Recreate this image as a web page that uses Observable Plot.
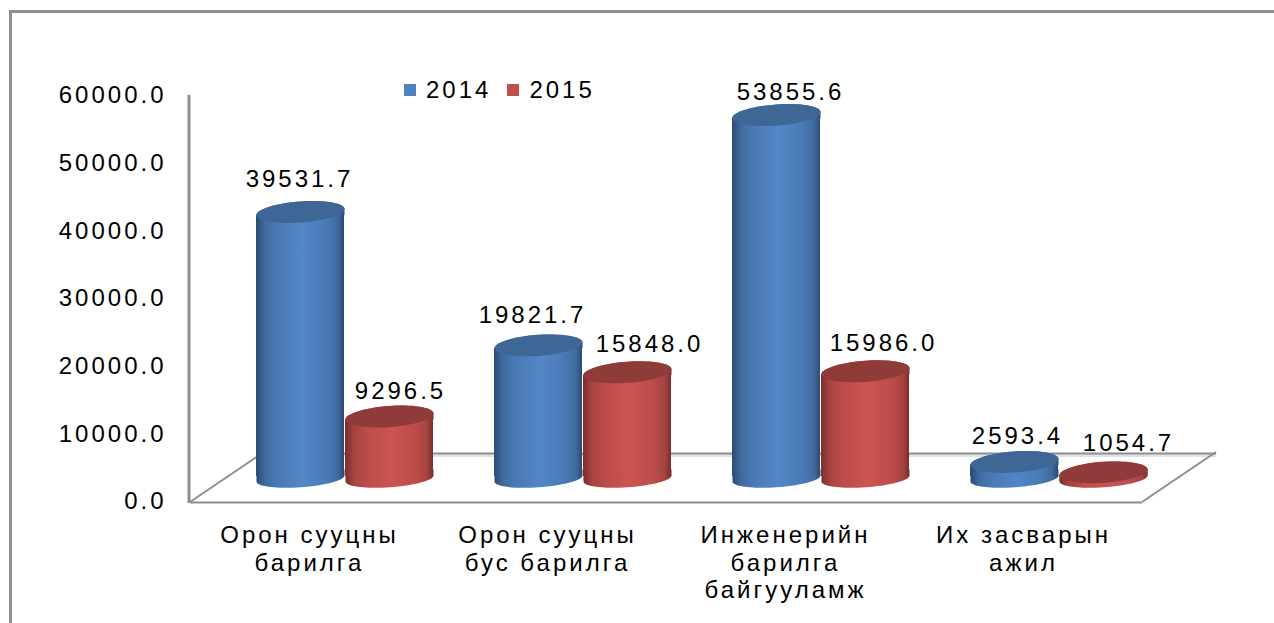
<!DOCTYPE html>
<html lang="mn">
<head>
<meta charset="utf-8">
<script src="https://cdn.jsdelivr.net/npm/d3@7"></script>
<script src="https://cdn.jsdelivr.net/npm/@observablehq/plot@0.6"></script>
<style>
  html,body{margin:0;padding:0;background:#fff;overflow:hidden}
  #wrap{position:relative;width:1274px;height:623px;font-family:"Liberation Sans",Arial,sans-serif}
  #border{position:absolute;left:9px;top:10px;right:0;bottom:0;border-left:3px solid #8e8e8e;border-top:3px solid #8e8e8e}
  #chart{position:absolute;left:0;top:0;width:1274px;height:623px}
  #legend{position:absolute;left:404px;top:76px;display:flex;align-items:center;gap:0;font-size:24px;letter-spacing:3px;color:#000;line-height:28px}
  #legend i{display:inline-block;width:12px;height:12px;margin-right:10px}
  #legend span{display:flex;align-items:center;margin-right:16px}
</style>
</head>
<body>
<div id="wrap">
  <div id="border"></div>
  <div id="chart"></div>
  <div id="legend"></div>
</div>
<script>
// Data
const categories = ["Орон сууцны\nбарилга", "Орон сууцны\nбус барилга", "Инженерийн\nбарилга\nбайгууламж", "Их засварын\nажил"];
const series = ["2014", "2015"];
const values2014 = [39531.7, 19821.7, 53855.6, 2593.4];
const values2015 = [9296.5, 15848.0, 15986.0, 1054.7];
const yTicks = [0, 10000, 20000, 30000, 40000, 50000, 60000];

// Look of the pseudo-3D drawing
const depth = {x: 74, y: 49, barY: 22};
const seriesDx = {"2014": -9, "2015": 80};
const rx = 44;
const shear = 3, strip = 6;
const labelNudge = {
  "2014": [[-1, -33], [-6, -30], [14, -23], [3, -26]],
  "2015": [[11, -25], [22, -28], [18, -28], [25, -29]]
};
const colors = {
  "2014": {edge: "#2b4b72", mid: "#5286c6", top: "#3e6796", swatch: "#4f81bd"},
  "2015": {edge: "#7a2e2c", mid: "#cc5452", top: "#8f3b39", swatch: "#c0504d"}
};

// Sheared ellipse outlines: upper and lower half, with straight sides joining the cylinder body
const K = 0.5523;
const ellipseRadius = size => Math.sqrt(size / Math.PI);
const upperHalf = (c, a, b) => {
  c.bezierCurveTo(-a, shear - K * b, -K * a, K * shear - b, 0, -b);
  c.bezierCurveTo(K * a, -K * shear - b, a, -shear - K * b, a, -shear);
};
const lowerHalf = (c, a, b) => {
  c.bezierCurveTo(a, -shear + K * b, K * a, -K * shear + b, 0, b);
  c.bezierCurveTo(-K * a, K * shear + b, -a, shear + K * b, -a, shear);
};
const lidSymbol = {
  draw(c, size) {
    const a = ellipseRadius(size), b = a * 0.24;
    c.moveTo(-a, shear);
    upperHalf(c, a, b);
    lowerHalf(c, a, b);
    c.closePath();
  }
};
const shoulderSymbol = {
  draw(c, size) {
    const a = ellipseRadius(size), b = a * 0.24;
    c.moveTo(-a, shear);
    upperHalf(c, a, b);
    c.lineTo(a, -shear + strip);
    c.lineTo(-a, shear + strip);
    c.closePath();
  }
};
const baseSymbol = {
  draw(c, size) {
    const a = ellipseRadius(size), b = a * 0.2;
    c.moveTo(-a, shear - strip);
    c.lineTo(-a, shear);
    c.bezierCurveTo(-a, shear + K * b, -K * a, K * shear + b, 0, b);
    c.bezierCurveTo(K * a, -K * shear + b, a, -shear + K * b, a, -shear);
    c.lineTo(a, -shear - strip);
    c.closePath();
  }
};

function gradients() {
  const defs = d3.create("svg:defs");
  for (const s of series) {
    const mix = d3.interpolateRgb(colors[s].edge, colors[s].mid);
    const g = defs.append("linearGradient").attr("id", "side" + s).attr("x1", 0).attr("x2", 1).attr("y1", 0).attr("y2", 0);
    [[0, colors[s].edge], [0.1, mix(0.55)], [0.25, mix(0.8)], [0.52, colors[s].mid], [0.8, mix(0.8)], [0.93, mix(0.55)], [1, colors[s].edge]]
      .forEach(([o, col]) => g.append("stop").attr("offset", o).attr("stop-color", col));
  }
  return defs.node();
}

function floorEdges(index, {y}, values, dims) {
  const g = d3.create("svg:g").attr("stroke", "#8e8e8e").attr("stroke-width", 2);
  const y0 = y(0) + 1, l = dims.marginLeft, r = dims.width - dims.marginRight;
  for (const x0 of [l, r]) {
    g.append("line").attr("x1", x0).attr("y1", y0).attr("x2", x0 + depth.x).attr("y2", y0 - depth.y - 1);
  }
  g.append("line").attr("x1", l - 1).attr("x2", l - 1).attr("y1", y(60000)).attr("y2", y0 + 1).attr("stroke-width", 3);
  return g.node();
}

function cylinder(s, vals) {
  const rows = categories.map((c, i) => ({c, v: vals[i]}));
  const common = {x: "c", dx: seriesDx[s], dy: -depth.barY};
  const dot = {...common, r: rx, stroke: "none"};
  const side = `url(#side${s})`;
  return [
    Plot.dot(rows, {...dot, y: () => 0, dy: -depth.barY - 1, symbol: baseSymbol, fill: side}),
    Plot.barY(rows, {...common, y: "v", insetTop: strip / 2, insetBottom: strip / 2, fill: side}),
    Plot.dot(rows, {...dot, y: "v", symbol: shoulderSymbol, fill: side}),
    Plot.dot(rows, {...dot, y: "v", symbol: lidSymbol, fill: colors[s].top})
  ];
}

function labels(s, vals) {
  return vals.map((v, i) => Plot.text([{c: categories[i], v}], {
    x: "c", y: "v", text: d => d3.format(".1f")(d.v),
    dx: seriesDx[s] + labelNudge[s][i][0],
    dy: -depth.barY + labelNudge[s][i][1],
    fontSize: 24, fill: "#000"
  }));
}

const chart = Plot.plot({
  width: 1274,
  height: 623,
  marginLeft: 190,
  marginRight: 132,
  marginTop: 95,
  marginBottom: 122,
  style: {fontFamily: '"Liberation Sans", Arial, sans-serif', letterSpacing: "3px", background: "transparent", color: "#000", overflow: "visible"},
  x: {domain: categories, paddingInner: 150 / 238, paddingOuter: 75 / 238, axis: null, label: null},
  y: {domain: [0, 60000], axis: null, label: null},
  marks: [
    gradients,
    Plot.ruleY([0], {dx: depth.x, dy: -depth.y + 3, stroke: "#e2e2e2", strokeWidth: 3}),
    Plot.ruleY([0], {dx: depth.x, dy: -depth.y + 1, stroke: "#8e8e8e", strokeWidth: 2}),
    Plot.ruleY([0], {dy: 1, stroke: "#8e8e8e", strokeWidth: 2}),
    floorEdges,
    Plot.axisY({ticks: yTicks, tickSize: 0, tickPadding: 24, tickFormat: d3.format(".1f"), fontSize: 24, label: null, fill: "#000"}),
    Plot.axisX({tickSize: 0, tickPadding: 22, fontSize: 24, lineHeight: 1.15, label: null, fill: "#000"}),
    ...cylinder("2014", values2014),
    ...cylinder("2015", values2015),
    ...labels("2014", values2014),
    ...labels("2015", values2015)
  ]
});
document.getElementById("chart").append(chart);

const legend = d3.select("#legend");
for (const s of series) {
  const item = legend.append("span");
  item.append("i").style("background", colors[s].swatch);
  item.append("b").style("font-weight", "normal").text(s);
}
</script>
</body>
</html>
